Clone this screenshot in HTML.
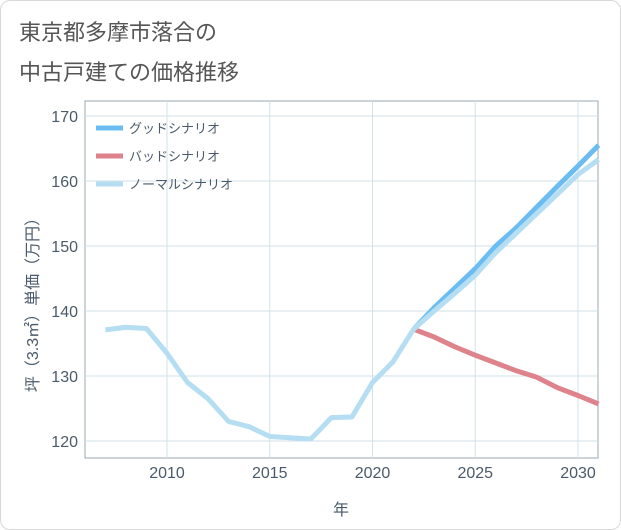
<!DOCTYPE html>
<html><head><meta charset="utf-8">
<style>
body{margin:0;background:#fff;}
#card{position:absolute;left:0;top:0;width:619px;height:528px;border:1px solid #d8d8d8;border-radius:10px;background:#fff;overflow:hidden;font-family:"Liberation Sans","Noto Sans CJK JP",sans-serif;}
.title{position:absolute;left:18px;font-size:22px;color:#555;}
</style></head>
<body>
<div id="card">
<div class="title" style="top:14px">東京都多摩市落合の</div>
<div class="title" style="top:54px">中古戸建ての価格推移</div>
<svg id="chart" width="621" height="530" style="position:absolute;left:0;top:0"></svg>
</div>
<script>
const years=[2007,2008,2009,2010,2011,2012,2013,2014,2015,2016,2017,2018,2019,2020,2021,2022,2023,2024,2025,2026,2027,2028,2029,2030,2031];
const normalVals=[137.1,137.5,137.3,133.5,129,126.5,123,122.2,120.7,120.5,120.3,123.6,123.7,129,132.2,137.2,140,142.7,145.5,149,152,155,158,161,163.3];
const futureYears=[2022,2023,2024,2025,2026,2027,2028,2029,2030,2031];
const goodVals=[137.2,140.5,143.5,146.5,150,152.8,156,159.2,162.3,165.5];
const badVals=[137.2,136,134.5,133.2,132,130.8,129.8,128.2,127,125.7];
const xTicks=[2010,2015,2020,2025,2030];
const yTicks=[120,130,140,150,160,170];
const L=84,R=597,T=100,B=457;
const X=y=>166+(y-2010)*(577-166)/20;
const Y=v=>440-(v-120)*6.5;
const svg=document.getElementById('chart');
const NS='http://www.w3.org/2000/svg';
function mk(t,a){const e=document.createElementNS(NS,t);for(const k in a)e.setAttribute(k,a[k]);svg.appendChild(e);return e;}
let bg=mk('rect',{x:L,y:T,width:R-L,height:B-T,fill:'#fff',stroke:'#9aa7b3','stroke-width':1});


xTicks.forEach(t=>{
 let g=mk('line',{x1:X(t),x2:X(t),y1:T,y2:B,stroke:'#d3e0ea','stroke-width':1});
 
 
 let tx=mk('text',{x:X(t),y:477,'text-anchor':'middle','font-size':16,fill:'#4a5a6a'});
 tx.textContent=t;
 
 
});
yTicks.forEach(t=>{
 let g=mk('line',{x1:L,x2:R,y1:Y(t),y2:Y(t),stroke:'#d3e0ea','stroke-width':1});
 
 
 let tx=mk('text',{x:77,y:Y(t)+6,'text-anchor':'end','font-size':16,fill:'#4a5a6a'});
 tx.textContent=t;
 
 
});
let xt=mk('text',{x:340,y:514,'text-anchor':'middle','font-size':16,fill:'#4a5a6a'});
xt.textContent='年';


let yt=mk('text',{x:0,y:0,'text-anchor':'middle','font-size':16,fill:'#4a5a6a',transform:'translate(37,300) rotate(-90)'});
yt.textContent='坪（3.3㎡）単価（万円）';


function line(xs,vs,c,name){
 let p=mk('polyline',{points:xs.map((x,i)=>X(x)+','+Y(vs[i])).join(' '),fill:'none',stroke:c,'stroke-width':5,'stroke-linejoin':'round'});
 
 
}
line(futureYears,badVals,'#de838b','bad-scenario-line');
line(futureYears,goodVals,'#6bbcf2','good-scenario-line');
line(years,normalVals,'#b5def2','normal-scenario-line');
[['グッドシナリオ','#6bbcf2'],['バッドシナリオ','#de838b'],['ノーマルシナリオ','#b5def2']].forEach((l,i)=>{
 let y=127+i*28;
 let s=mk('line',{x1:95,x2:122,y1:y,y2:y,stroke:l[1],'stroke-width':5});
 
 
 let t=mk('text',{x:128,y:y+5,'font-size':13,fill:'#4a5a6a'});
 t.textContent=l[0];
 
 
});
</script>
</body></html>
